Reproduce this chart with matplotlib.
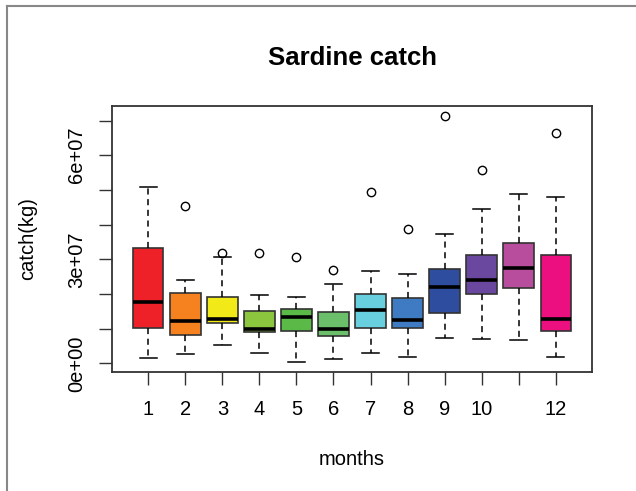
import matplotlib
matplotlib.use("Agg")
import matplotlib.pyplot as plt
from matplotlib.lines import Line2D

months = [1, 2, 3, 4, 5, 6, 7, 8, 9, 10, 11, 12]
tick_labels = ["1", "2", "3", "4", "5", "6", "7", "8", "9", "10", "", "12"]
whislo = [0.15, 0.26, 0.52, 0.30, 0.04, 0.12, 0.30, 0.19, 0.74, 0.70, 0.67, 0.19]
q1 = [1.02, 0.81, 1.15, 0.89, 0.93, 0.80, 1.03, 1.03, 1.44, 1.99, 2.17, 0.93]
med = [1.77, 1.22, 1.29, 1.00, 1.34, 1.00, 1.55, 1.25, 2.19, 2.40, 2.74, 1.29]
q3 = [3.33, 2.03, 1.92, 1.51, 1.58, 1.47, 1.99, 1.87, 2.72, 3.13, 3.46, 3.13]
whishi = [5.08, 2.40, 3.07, 1.96, 1.92, 2.29, 2.65, 2.58, 3.72, 4.46, 4.89, 4.79]
outliers = [[], [4.54], [3.17], [3.17], [3.06], [2.69], [4.95], [3.88], [7.12], [5.57], [], [6.64]]
colors = ["#EE2128", "#F5821F", "#F2E918", "#8CC63E", "#5BB947", "#6BBF6B",
          "#67CFDD", "#3E7BC2", "#2F4D9F", "#6A48A0", "#B84D9D", "#EC0F80"]
scale = 1e7

plt.rcParams["font.family"] = ["Liberation Sans", "DejaVu Sans"]

fig = plt.figure(figsize=(6.36, 4.91), dpi=100)
ax = fig.add_axes([112 / 636, 1 - 372 / 491, 480 / 636, 266 / 491])

stats = []
for i in range(len(months)):
    stats.append(dict(whislo=whislo[i] * scale, q1=q1[i] * scale, med=med[i] * scale,
                      q3=q3[i] * scale, whishi=whishi[i] * scale,
                      fliers=[v * scale for v in outliers[i]]))

bp = ax.bxp(stats, positions=months, widths=0.82, patch_artist=True,
            showfliers=True,
            boxprops=dict(edgecolor="#333333", linewidth=1.2),
            medianprops=dict(color="black", linewidth=2.6, solid_capstyle="butt"),
            whiskerprops=dict(color="black", linewidth=1.1, linestyle=(0, (4, 3))),
            capprops=dict(color="black", linewidth=1.1),
            flierprops=dict(marker="o", markerfacecolor="none", markeredgecolor="black",
                            markersize=6, markeredgewidth=1.0),
            capwidths=0.45)
for patch, c in zip(bp["boxes"], colors):
    patch.set_facecolor(c)

ax.set_xlim(0.02, 12.98)
ax.set_ylim(-0.25e7, 7.42e7)
ax.set_xticks(months)
ax.set_xticklabels(tick_labels)
yt = [i * 1e7 for i in range(8)]
ax.set_yticks(yt)
ax.set_yticklabels(["0e+00", "", "", "3e+07", "", "", "6e+07", ""], rotation=90, va="center")
ax.tick_params(axis="both", length=9.4, width=1.0, color="#333333", labelsize=14.5)
ax.tick_params(axis="x", pad=11)
ax.tick_params(axis="y", pad=9)
for s in ax.spines.values():
    s.set_linewidth(1.3)
    s.set_color("#333333")

ax.set_xlabel("months", fontsize=14.5, labelpad=22)
ax.set_ylabel("catch(kg)", fontsize=14.5, labelpad=22)
fig.text(352 / 636, 1 - 58 / 491, "Sardine catch", fontsize=18.5, fontweight="bold",
         ha="center", va="center")

# outer frame lines
fig.add_artist(Line2D([7 / 636, 7 / 636], [0, 1 - 6 / 491], transform=fig.transFigure,
                      color="#888888", linewidth=1.5))
fig.add_artist(Line2D([7 / 636, 1], [1 - 6 / 491, 1 - 6 / 491], transform=fig.transFigure,
                      color="#888888", linewidth=1.5))

fig.savefig("out.png", dpi=100)
